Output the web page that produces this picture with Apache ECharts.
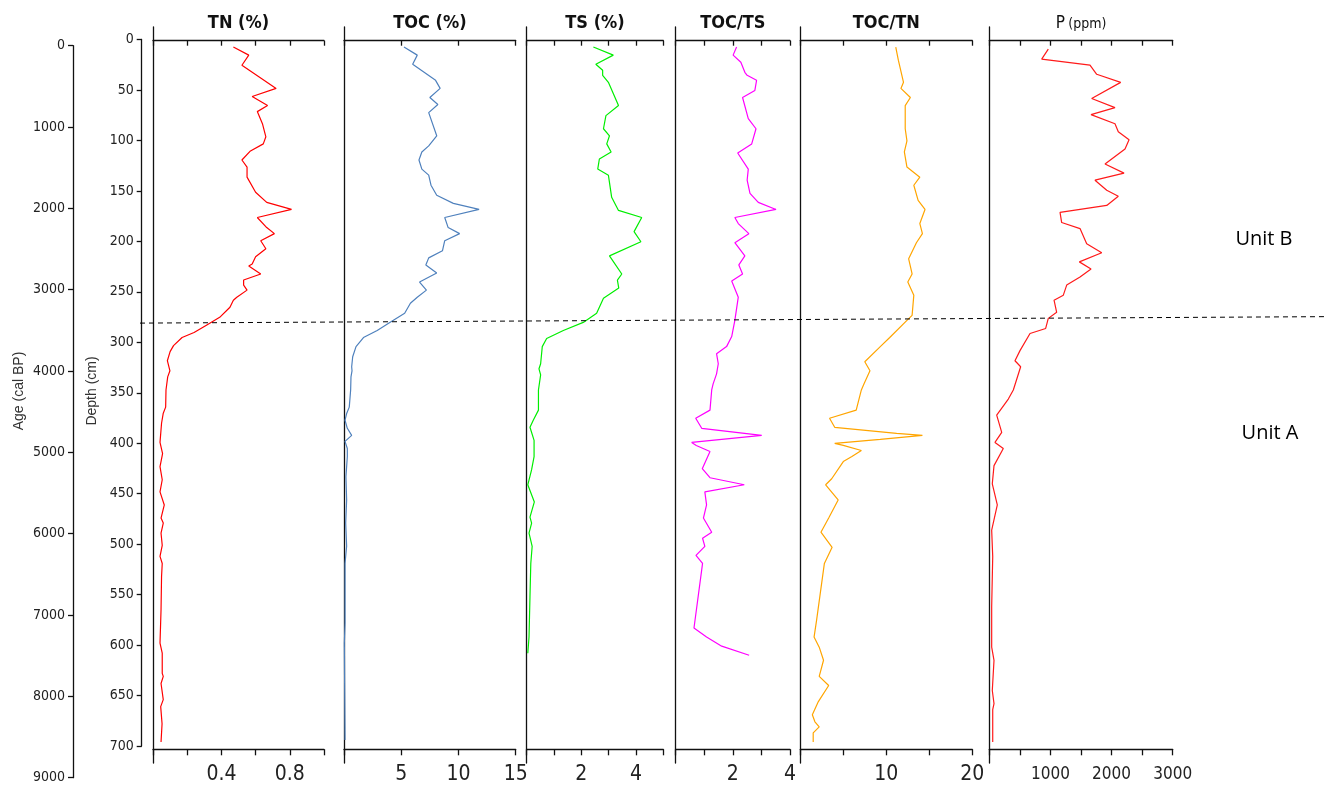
<!DOCTYPE html>
<html><head><meta charset="utf-8">
<script src="https://cdn.jsdelivr.net/npm/echarts@6/dist/echarts.min.js"></script>
<style>html,body{margin:0;padding:0;background:#fff}#c{width:1335px;height:787px}</style>
</head><body><div id="c"></div>
<script>
// ---------- data (depth in cm) ----------
const tnDepth = [7,15,25,48,56,65,71,83,96,103,110,119,126,136,151,161,168,176,186,192,199,207,215,222,224,232,238,243,248,255,258,265,275,283,290,295,303,309,318,328,334,347,364,370,380,399,410,423,436,448,461,474,479,489,501,512,519,532,565,598,608,628,631,638,654,661,678,696];
const tnValue = [0.47,0.56,0.52,0.72,0.58,0.67,0.61,0.64,0.66,0.645,0.57,0.52,0.55,0.55,0.6,0.665,0.81,0.61,0.665,0.71,0.63,0.66,0.6,0.58,0.56,0.63,0.53,0.53,0.55,0.49,0.47,0.45,0.39,0.31,0.24,0.17,0.12,0.1,0.084,0.099,0.086,0.076,0.074,0.06,0.05,0.041,0.056,0.041,0.054,0.041,0.066,0.047,0.06,0.047,0.054,0.041,0.054,0.05,0.047,0.041,0.054,0.054,0.06,0.047,0.06,0.045,0.053,0.047];

const tocDepth = [7,15,24,40,48,57,64,72,95,105,111,119,128,134,144,154,162,168,176,186,192,199,209,216,223,231,240,248,255,261,271,280,288,295,304,314,324,328,334,347,364,370,377,385,392,398,405,413,433,456,479,502,519,578,598,694];
const tocValue = [5.24,6.4,6.0,8.0,8.4,7.5,8.2,7.4,8.1,7.4,6.8,6.55,6.8,7.4,7.6,8.1,9.55,11.8,8.8,9.1,10.1,8.8,8.6,7.4,7.15,8.1,6.6,7.2,6.4,5.8,5.3,4.0,2.9,1.7,1.05,0.76,0.67,0.7,0.61,0.58,0.46,0.24,0.09,0.29,0.67,0.09,0.29,0.29,0.17,0.23,0.15,0.23,0.09,0.09,0.03,0.09];

const tsDepth = [7,15,24,30,35,42,65,75,88,95,103,111,118,128,134,156,169,176,190,200,214,232,238,246,256,271,280,288,296,304,321,326,332,347,367,377,384,397,413,426,441,458,473,479,489,502,519,552,592,608];
const tsValue = [2.44,3.17,2.53,2.78,2.78,2.99,3.36,2.9,2.81,3.03,2.93,3.09,2.66,2.6,2.99,3.11,3.36,4.21,3.93,4.18,3.03,3.48,3.32,3.37,2.81,2.56,2.07,1.34,0.73,0.57,0.51,0.45,0.51,0.43,0.43,0.24,0.12,0.27,0.27,0.18,0.04,0.28,0.12,0.18,0.085,0.2,0.15,0.12,0.085,0.04];

const tocTsDepth = [7,15,22,32,35,40,50,57,78,88,103,112,128,139,152,161,168,176,182,192,201,214,223,232,239,255,278,294,304,311,321,331,341,347,367,375,385,392,399,402,408,425,434,441,448,461,474,488,494,502,511,519,583,592,601,610];
const tocTsValue = [2.13,2.01,2.28,2.42,2.5,2.83,2.77,2.34,2.54,2.81,2.66,2.17,2.54,2.5,2.6,2.89,3.51,2.07,2.19,2.56,2.07,2.42,2.21,2.34,1.96,2.19,2.07,1.96,1.78,1.43,1.49,1.43,1.31,1.26,1.2,0.7,0.91,3.01,0.56,0.72,1.2,0.93,1.2,2.4,1.02,1.08,0.97,1.26,0.94,1.02,0.71,0.94,0.64,1.08,1.61,2.57];

const tocTnDepth = [7,20,42,48,57,65,88,100,111,126,136,144,159,168,182,192,201,217,232,240,253,273,278,295,304,319,328,341,347,367,375,384,390,392,396,400,402,407,413,418,435,441,456,474,488,503,519,575,592,602,615,631,640,656,669,676,681,687,696];
const tocTnValue = [11.1,11.4,12.0,11.7,12.8,12.2,12.2,12.4,12.1,12.4,13.9,13.2,13.7,14.5,13.9,14.2,13.5,12.6,13.0,12.5,13.2,13.0,12.4,10.4,9.3,7.5,8.1,7.4,7.1,6.5,3.4,4.0,11.2,14.2,9.3,4.0,5.0,7.1,6.0,5.0,3.65,2.95,4.4,3.3,2.4,3.7,2.8,1.9,1.6,2.2,2.7,2.2,3.3,2.1,1.4,1.7,2.2,1.5,1.5];

const pDepth = [9,19,25,34,42,58,67,74,83,91,99,108,123,132,139,149,155,164,171,181,187,202,211,220,227,235,243,253,258,270,276,286,291,308,318,324,347,356,372,389,399,405,422,440,461,486,512,562,602,615,645,658,664,696];
const pValue = [965,857,1647,1757,2149,1675,2056,1664,2056,2110,2286,2220,1893,2204,1729,1921,2110,1921,1157,1184,1484,1593,1839,1473,1664,1484,1266,1211,1059,1102,965,922,666,502,420,513,393,311,121,203,93,229,77,49,131,39,56,39,39,77,49,77,56,56];

const panelTitles = ['TN (%)','TOC (%)','TS (%)','TOC/TS','TOC/TN','P (ppm)'];
const panelMax = [1, 15, 5, 4, 20, 3000];
const panelTickStep = [0.2, 5, 1, 1, 5, 500];
const panelTickLabels = [[0.4,0.8],[5,10,15],[2,4],[2,4],[10,20],[1000,2000,3000]];
const ageRange = [0, 9000, 1000];
const depthRange = [0, 700, 50];
const boundaryDepth = [281, 274.6];
const unitLabels = ['Unit B','Unit A'];
const unitDepths = [198, 390];

// ---------- layout ----------
const NARROW = "'Liberation Sans Narrow','Arial Narrow','DejaVu Sans Condensed','Liberation Sans',sans-serif";
const panelLeft = [153, 344, 526.7, 675.7, 800.3, 989.3];
const panelWidth = [171, 171.7, 136.6, 114.3, 172, 183.4];
const panelColor = ['#ff0000','#4f81bd','#00ee00','#ff00ff','#ffa500','#ff1a1a'];
const panelTop = 27, panelHeight = 736;
const depthTopPx = 40, depthPxPerCm = 706 / 700;
const yMinP = -(depthTopPx - panelTop) / depthPxPerCm;
const yMaxP = yMinP + panelHeight / depthPxPerCm;
const series = [
  [tnDepth, tnValue], [tocDepth, tocValue], [tsDepth, tsValue],
  [tocTsDepth, tocTsValue], [tocTnDepth, tocTnValue], [pDepth, pValue]
];
const axisBlack = {show: true, lineStyle: {color: '#111', width: 1.3}};
const plain = v => String(v);

const grid = [
  {left: 73, top: 45.7, width: 10, height: 732},
  {left: 141.7, top: 39.5, width: 10, height: 706.5}
];
const xAxis = [
  {gridIndex: 0, type: 'value', show: false, min: 0, max: 1},
  {gridIndex: 1, type: 'value', show: false, min: 0, max: 1}
];
const yAxis = [
  {gridIndex: 0, type: 'value', min: ageRange[0], max: ageRange[1], interval: ageRange[2], inverse: true,
   axisLine: axisBlack, axisTick: {show: true, length: 5, lineStyle: {color: '#111', width: 1.3}},
   axisLabel: {fontFamily: NARROW, fontSize: 14, color: '#222', margin: 8, formatter: plain}, splitLine: {show: false}},
  {gridIndex: 1, type: 'value', min: depthRange[0], max: depthRange[1], interval: depthRange[2], inverse: true,
   axisLine: axisBlack, axisTick: {show: true, length: 5, lineStyle: {color: '#111', width: 1.3}},
   axisLabel: {fontFamily: NARROW, fontSize: 14, color: '#222', margin: 8, formatter: plain}, splitLine: {show: false}}
];
const seriesList = [];
const graphics = [];

for (let p = 0; p < 6; p++) {
  const g = grid.length;
  grid.push({left: panelLeft[p], top: panelTop, width: panelWidth[p], height: panelHeight});
  const shown = panelTickLabels[p];
  const common = {gridIndex: g, type: 'value', min: 0, max: panelMax[p], interval: panelTickStep[p],
    axisLine: Object.assign({onZero: false}, axisBlack), splitLine: {show: false}};
  xAxis.push(Object.assign({}, common, {position: 'top', offset: -13.7,
    axisTick: {show: true, inside: true, length: 5, lineStyle: {color: '#111', width: 1.3}},
    axisLabel: {show: false}}));
  const bottomIndex = xAxis.length;
  xAxis.push(Object.assign({}, common, {position: 'bottom', offset: -13.7,
    axisTick: {show: true, inside: false, length: 6, lineStyle: {color: '#111', width: 1.3}},
    axisLabel: {show: true, fontFamily: NARROW, fontSize: p === 5 ? 17 : 21, color: '#222', margin: p === 5 ? 17 : 15,
      showMinLabel: true, showMaxLabel: true,
      formatter: v => shown.some(s => Math.abs(s - v) < 1e-9) ? String(v) : ''}}));
  yAxis.push({gridIndex: g, type: 'value', min: yMinP, max: yMaxP, inverse: true,
    axisLine: Object.assign({onZero: false}, axisBlack), axisTick: {show: false}, axisLabel: {show: false},
    splitLine: {show: false}});
  const [dep, val] = series[p];
  seriesList.push({type: 'line', name: panelTitles[p], xAxisIndex: bottomIndex, yAxisIndex: yAxis.length - 1,
    data: dep.map((d, i) => [val[i], d]), showSymbol: false, silent: true,
    lineStyle: {color: panelColor[p], width: 1.2}});
  const cx = panelLeft[p] + panelWidth[p] / 2;
  if (p === 5) {
    graphics.push({type: 'text', x: cx, y: 24, style: {text: '{a|P} {b|(ppm)}', align: 'center', verticalAlign: 'middle',
      rich: {a: {fontFamily: NARROW, fontSize: 17, fill: '#111'}, b: {fontFamily: NARROW, fontSize: 14, fill: '#111'}}}});
  } else {
    graphics.push({type: 'text', x: cx, y: 23, style: {text: panelTitles[p], align: 'center', verticalAlign: 'middle',
      fontFamily: NARROW, fontWeight: 'bold', fontSize: 18, fill: '#111'}});
  }
}

// overlay grid for the unit boundary
const og = grid.length;
grid.push({left: 140, top: 39.5, width: 1185, height: 706.5});
xAxis.push({gridIndex: og, type: 'value', show: false, min: 0, max: 1});
yAxis.push({gridIndex: og, type: 'value', show: false, min: depthRange[0], max: depthRange[1], inverse: true});
seriesList.push({type: 'line', name: 'boundary', xAxisIndex: xAxis.length - 1, yAxisIndex: yAxis.length - 1,
  data: [[0, boundaryDepth[0]], [1, boundaryDepth[1]]], showSymbol: false, silent: true,
  lineStyle: {color: '#000', width: 1, type: [5, 4]}});
// unit labels placed on the overlay grid
seriesList.push({type: 'scatter', name: 'units', xAxisIndex: xAxis.length - 1, yAxisIndex: yAxis.length - 1,
  data: unitLabels.map((u, i) => ({value: [i === 0 ? 0.9485 : 0.9536, unitDepths[i]], name: u})),
  symbolSize: 0, silent: true,
  label: {show: true, position: 'inside', formatter: d => d.name, fontFamily: "'Open Sans','Noto Sans',sans-serif",
    fontSize: 20, color: '#000', opacity: 1}});

graphics.push({type: 'text', x: 19, y: 391, rotation: Math.PI / 2, style: {text: 'Age (cal BP)', align: 'center',
  verticalAlign: 'middle', fontFamily: "'Liberation Sans',Arial,sans-serif", fontSize: 14, fill: '#333'}});
graphics.push({type: 'text', x: 92, y: 391, rotation: Math.PI / 2, style: {text: 'Depth (cm)', align: 'center',
  verticalAlign: 'middle', fontFamily: "'Liberation Sans',Arial,sans-serif", fontSize: 14, fill: '#333'}});

const chart = echarts.init(document.getElementById('c'), null, {renderer: 'canvas'});
chart.setOption({
  backgroundColor: '#fff', animation: false,
  grid: grid, xAxis: xAxis, yAxis: yAxis, series: seriesList, graphic: graphics
});
</script></body></html>
